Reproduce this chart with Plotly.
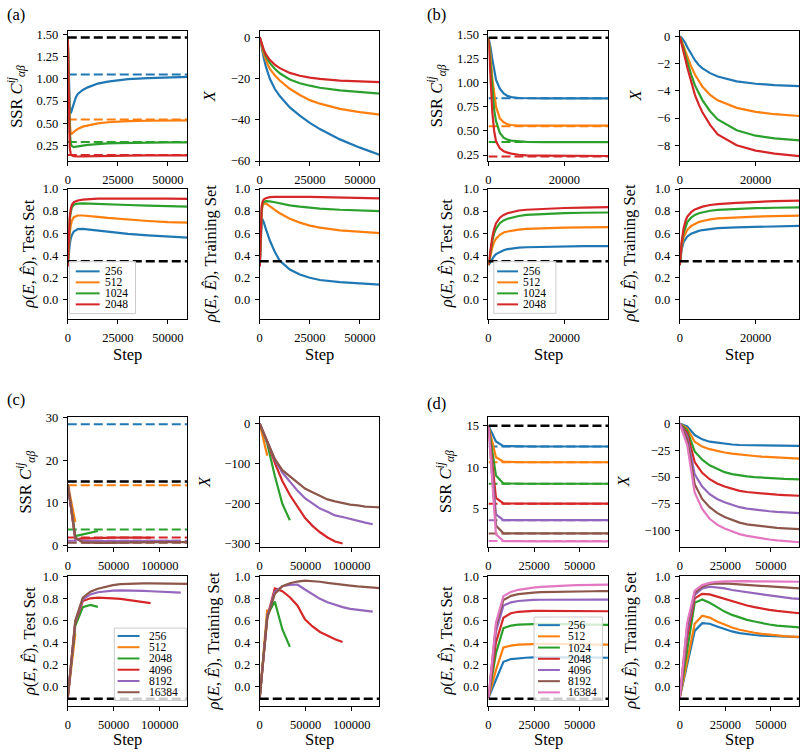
import plotly.graph_objects as go

W, H = 800, 755
FONT = "Liberation Serif"
TAB = ["#1f77b4", "#ff7f0e", "#2ca02c", "#d62728", "#9467bd", "#8c564b", "#e377c2"]

# ---------------- panel (a) ----------------
A_LABELS = ["256", "512", "1024", "2048"]
A_STEPS = [0, 500, 1000, 1500, 2000, 3000, 4000, 5000, 7500, 10000, 15000,
           20000, 25000, 30000, 40000, 50000, 60000]
A_SSR = [
    [1.47, 1.0, 0.7, 0.61, 0.65, 0.74, 0.79, 0.83, 0.875, 0.905, 0.948, 0.97, 0.988, 0.998, 1.01, 1.018, 1.024],
    [1.47, 0.9, 0.5, 0.375, 0.38, 0.40, 0.42, 0.435, 0.46, 0.475, 0.497, 0.51, 0.517, 0.522, 0.527, 0.53, 0.532],
    [1.47, 0.8, 0.4, 0.27, 0.24, 0.228, 0.23, 0.235, 0.245, 0.253, 0.263, 0.27, 0.274, 0.277, 0.28, 0.282, 0.283],
    [1.47, 0.6, 0.22, 0.15, 0.135, 0.127, 0.124, 0.122, 0.123, 0.125, 0.128, 0.13, 0.132, 0.133, 0.134, 0.134, 0.134],
]
A_SSR_REF = [1.05, 0.54, 0.285, 0.14]
A_SSR_BASE = 1.47
A_X = [
    [0, -3, -5.5, -8, -10, -14, -17.3, -20, -25, -28.5, -34, -38, -41.5, -44.5, -49.5, -53.5, -57],
    [0, -2.5, -4.5, -6.3, -8, -11, -13.3, -15.2, -18.5, -21, -25, -28, -30.5, -32.2, -34.7, -36.3, -37.5],
    [0, -2, -3.8, -5.3, -6.6, -9, -11, -12.5, -15.3, -17.5, -20.5, -22.3, -23.5, -24.5, -25.8, -26.7, -27.3],
    [0, -1.8, -3.4, -4.8, -6, -8.2, -9.8, -11, -13.3, -15, -17.3, -18.7, -19.6, -20.2, -21, -21.5, -21.8],
]
A_TEST = [
    [0.30, 0.42, 0.5, 0.55, 0.58, 0.615, 0.63, 0.637, 0.638, 0.633, 0.622, 0.612, 0.602, 0.593, 0.58, 0.57, 0.56],
    [0.30, 0.5, 0.6, 0.67, 0.71, 0.745, 0.755, 0.76, 0.76, 0.757, 0.748, 0.738, 0.73, 0.722, 0.71, 0.70, 0.695],
    [0.30, 0.58, 0.72, 0.79, 0.83, 0.858, 0.865, 0.868, 0.87, 0.869, 0.866, 0.862, 0.858, 0.855, 0.85, 0.845, 0.84],
    [0.30, 0.6, 0.75, 0.82, 0.855, 0.88, 0.89, 0.896, 0.904, 0.908, 0.912, 0.913, 0.914, 0.914, 0.913, 0.912, 0.91],
]
A_TRAIN = [
    [0.30, 0.6, 0.71, 0.72, 0.7, 0.64, 0.585, 0.535, 0.43, 0.35, 0.27, 0.225, 0.195, 0.175, 0.155, 0.142, 0.133],
    [0.30, 0.65, 0.8, 0.85, 0.865, 0.87, 0.86, 0.845, 0.81, 0.78, 0.73, 0.695, 0.668, 0.65, 0.625, 0.61, 0.60],
    [0.30, 0.7, 0.83, 0.87, 0.882, 0.89, 0.89, 0.888, 0.88, 0.87, 0.852, 0.84, 0.83, 0.823, 0.812, 0.805, 0.80],
    [0.30, 0.72, 0.85, 0.89, 0.905, 0.917, 0.923, 0.926, 0.929, 0.93, 0.93, 0.929, 0.928, 0.926, 0.922, 0.918, 0.915],
]
A_RHO_BASE = 0.345

# ---------------- panel (b) ----------------
B_LABELS = ["256", "512", "1024", "2048"]
B_STEPS = [0, 500, 1000, 1500, 2000, 3000, 4000, 5000, 6000, 8000, 10000, 15000, 20000, 25000, 31500]
B_SSR = [
    [1.47, 1.38, 1.25, 1.12, 1.03, 0.94, 0.89, 0.865, 0.852, 0.843, 0.841, 0.84, 0.84, 0.84, 0.84],
    [1.47, 1.3, 1.05, 0.87, 0.75, 0.63, 0.59, 0.57, 0.562, 0.556, 0.555, 0.555, 0.555, 0.555, 0.555],
    [1.47, 1.22, 0.92, 0.72, 0.6, 0.48, 0.43, 0.41, 0.4, 0.39, 0.387, 0.385, 0.385, 0.385, 0.385],
    [1.47, 1.05, 0.7, 0.5, 0.39, 0.32, 0.29, 0.275, 0.265, 0.253, 0.247, 0.243, 0.24, 0.24, 0.24],
]
B_SSR_REF = [0.84, 0.55, 0.385, 0.235]
B_SSR_BASE = 1.47
B_X = [
    [0, -0.1, -0.3, -0.5, -0.8, -1.3, -1.75, -2.1, -2.35, -2.7, -2.95, -3.3, -3.48, -3.58, -3.66],
    [0, -0.3, -0.7, -1.1, -1.5, -2.2, -2.8, -3.3, -3.7, -4.3, -4.7, -5.25, -5.55, -5.72, -5.85],
    [0, -0.4, -0.9, -1.4, -1.9, -2.8, -3.6, -4.2, -4.7, -5.5, -6.1, -6.9, -7.3, -7.5, -7.65],
    [0, -0.5, -1.1, -1.7, -2.3, -3.4, -4.3, -5.0, -5.6, -6.5, -7.2, -8.0, -8.4, -8.62, -8.8],
]
B_TEST = [
    [0.31, 0.34, 0.37, 0.39, 0.41, 0.43, 0.445, 0.455, 0.46, 0.468, 0.472, 0.477, 0.48, 0.482, 0.483],
    [0.31, 0.4, 0.47, 0.52, 0.55, 0.585, 0.605, 0.615, 0.622, 0.632, 0.638, 0.645, 0.65, 0.652, 0.655],
    [0.31, 0.43, 0.53, 0.6, 0.64, 0.69, 0.715, 0.73, 0.74, 0.755, 0.765, 0.775, 0.782, 0.785, 0.787],
    [0.31, 0.45, 0.56, 0.64, 0.69, 0.74, 0.765, 0.78, 0.79, 0.805, 0.812, 0.822, 0.828, 0.832, 0.836],
]
B_TRAIN = [
    [0.31, 0.45, 0.52, 0.55, 0.57, 0.595, 0.61, 0.62, 0.628, 0.638, 0.645, 0.653, 0.658, 0.662, 0.665],
    [0.31, 0.48, 0.56, 0.6, 0.63, 0.665, 0.685, 0.7, 0.71, 0.725, 0.733, 0.743, 0.75, 0.755, 0.758],
    [0.31, 0.5, 0.6, 0.66, 0.7, 0.74, 0.765, 0.78, 0.79, 0.803, 0.81, 0.82, 0.826, 0.83, 0.833],
    [0.31, 0.52, 0.64, 0.71, 0.75, 0.79, 0.815, 0.83, 0.84, 0.855, 0.863, 0.875, 0.884, 0.89, 0.895],
]
B_RHO_BASE = 0.345

# ---------------- panel (c) ----------------
C_LABELS = ["256", "512", "2048", "4096", "8192", "16384"]
C_STEPS = [0, 8192, 16384, 24576, 32768, 40960, 49152, 57344, 65536, 73728,
           81920, 90112, 98304, 106496, 114688, 122880, 131072]
C_SSR = [
    [],
    [14.4, 5.5],
    [14.4, 2.2, 2.6, 3.0, 3.4],
    [14.4, 1.5, 1.6, 1.7, 1.75, 1.8, 1.85, 1.85, 1.9, 1.9, 1.85, 1.8],
    [14.4, 1.6, 1.0, 1.0, 1.0, 1.0, 1.05, 1.05, 1.05, 1.1, 1.1, 1.1, 1.1, 1.1, 1.1, 1.1],
    [14.4, 1.8, 0.7, 0.6, 0.6, 0.6, 0.65, 0.7, 0.7, 0.75, 0.75, 0.75, 0.8, 0.8, 0.8, 0.8, 0.8],
]
C_SSR_REF = [28.4, 14.1, 3.75, 1.85, 1.1, 0.65]
C_SSR_BASE = 15.0
C_X = [
    [],
    [0, -80],
    [0, -50, -130, -200, -241],
    [0, -45, -98, -143, -178, -208, -235, -255, -271, -284, -294, -299],
    [0, -45, -90, -122, -145, -167, -186, -200, -212, -220, -229, -233, -238, -243, -247, -251],
    [0, -45, -88, -116, -132, -147, -162, -171, -181, -189, -194, -198, -202, -204, -207, -208, -209],
]
C_TEST = [
    [],
    [-0.1, 0.48],
    [-0.1, 0.55, 0.72, 0.74, 0.722],
    [-0.1, 0.58, 0.775, 0.80, 0.806, 0.806, 0.80, 0.795, 0.787, 0.778, 0.768, 0.757],
    [-0.1, 0.59, 0.79, 0.835, 0.855, 0.865, 0.87, 0.872, 0.872, 0.87, 0.867, 0.864, 0.861, 0.858, 0.855, 0.852],
    [-0.1, 0.6, 0.805, 0.86, 0.887, 0.905, 0.92, 0.928, 0.932, 0.934, 0.935, 0.935, 0.935, 0.934, 0.933, 0.932, 0.931],
]
C_TRAIN = [
    [],
    [-0.1, 0.70],
    [-0.1, 0.65, 0.77, 0.52, 0.36],
    [-0.1, 0.63, 0.89, 0.865, 0.81, 0.735, 0.61, 0.545, 0.495, 0.46, 0.43, 0.405],
    [-0.1, 0.63, 0.86, 0.91, 0.922, 0.925, 0.88, 0.835, 0.795, 0.765, 0.74, 0.72, 0.705, 0.695, 0.686, 0.68],
    [-0.1, 0.62, 0.84, 0.91, 0.937, 0.952, 0.96, 0.958, 0.95, 0.94, 0.93, 0.922, 0.915, 0.908, 0.902, 0.897, 0.893],
]
C_RHO_BASE = -0.11

# ---------------- panel (d) ----------------
D_LABELS = ["256", "512", "1024", "2048", "4096", "8192", "16384"]
D_STEPS = [0, 4096, 8192, 12288, 16384, 20480, 24576, 28672, 32768, 36864,
           40960, 45056, 49152, 53248, 57344, 61440, 65536]
D_SSR = [
    [15, 13.1, 12.55, 12.52, 12.5, 12.5, 12.5, 12.5, 12.5, 12.5, 12.5, 12.5, 12.5, 12.5, 12.5, 12.5, 12.5],
    [15, 11.2, 10.66, 10.62, 10.6, 10.6, 10.6, 10.6, 10.6, 10.6, 10.6, 10.6, 10.6, 10.6, 10.6, 10.6, 10.6],
    [15, 9.0, 8.04, 8.0, 8.0, 8.0, 8.0, 8.0, 8.0, 8.0, 8.0, 8.0, 8.0, 8.0, 8.0, 8.0, 8.0],
    [15, 6.3, 5.62, 5.6, 5.6, 5.6, 5.6, 5.6, 5.6, 5.6, 5.6, 5.6, 5.6, 5.6, 5.6, 5.6, 5.6],
    [15, 4.3, 3.62, 3.6, 3.6, 3.6, 3.6, 3.6, 3.6, 3.6, 3.6, 3.6, 3.6, 3.6, 3.6, 3.6, 3.6],
    [15, 2.96, 2.02, 2.0, 2.0, 2.0, 2.0, 2.0, 2.0, 2.0, 2.0, 2.0, 2.0, 2.0, 2.0, 2.0, 2.0],
    [15, 1.9, 1.08, 1.06, 1.05, 1.05, 1.05, 1.05, 1.05, 1.05, 1.05, 1.05, 1.05, 1.05, 1.05, 1.05, 1.05],
]
D_SSR_REF = [12.5, 10.6, 8.0, 5.6, 3.6, 2.0, 1.1]
D_SSR_BASE = 15.0
D_X = [
    [0, -2.5, -10.7, -14.7, -16.9, -18.0, -19.0, -19.5, -20.0, -20.2, -20.4, -20.5, -20.6, -20.7, -20.8, -20.85, -20.9],
    [0, -4.5, -16.9, -21.5, -23.9, -25.6, -27.0, -28.1, -29.0, -29.7, -30.3, -30.9, -31.4, -31.8, -32.2, -32.5, -32.8],
    [0, -6.5, -26, -33.7, -39, -42.5, -45.4, -47.2, -48.5, -49.4, -50.0, -50.6, -51.0, -51.4, -51.7, -51.9, -52.1],
    [0, -9, -36, -46, -52, -56, -58.9, -61.1, -62.9, -64.0, -64.8, -65.4, -66.0, -66.5, -66.9, -67.2, -67.5],
    [0, -12, -47.5, -58.9, -66, -70.5, -73.6, -76.2, -78.2, -79.5, -80.5, -81.3, -82.0, -82.6, -83.1, -83.4, -83.7],
    [0, -15, -56.7, -70.5, -78.2, -83.5, -87.4, -90.3, -92.6, -94.2, -95.2, -96.0, -96.8, -97.5, -98.0, -98.4, -98.8],
    [0, -20, -64.4, -79.8, -89, -94.5, -98.2, -101, -103.4, -105, -106.3, -107.4, -108.4, -109.2, -109.9, -110.5, -111],
]
D_TEST = [
    [-0.1, 0.06, 0.225, 0.25, 0.258, 0.262, 0.265, 0.266, 0.267, 0.267, 0.267, 0.266, 0.266, 0.265, 0.264, 0.263, 0.262],
    [-0.1, 0.15, 0.355, 0.372, 0.38, 0.384, 0.386, 0.387, 0.387, 0.387, 0.386, 0.385, 0.384, 0.383, 0.382, 0.381, 0.38],
    [-0.1, 0.3, 0.53, 0.553, 0.562, 0.566, 0.568, 0.568, 0.568, 0.567, 0.566, 0.565, 0.564, 0.563, 0.562, 0.561, 0.56],
    [-0.1, 0.4, 0.624, 0.665, 0.678, 0.684, 0.686, 0.687, 0.687, 0.687, 0.686, 0.686, 0.685, 0.685, 0.684, 0.684, 0.683],
    [-0.1, 0.5, 0.734, 0.763, 0.776, 0.782, 0.785, 0.787, 0.788, 0.789, 0.789, 0.789, 0.789, 0.789, 0.789, 0.789, 0.789],
    [-0.1, 0.55, 0.785, 0.822, 0.838, 0.847, 0.852, 0.856, 0.858, 0.86, 0.861, 0.862, 0.863, 0.864, 0.864, 0.865, 0.865],
    [-0.1, 0.58, 0.82, 0.858, 0.877, 0.889, 0.897, 0.903, 0.908, 0.912, 0.915, 0.917, 0.919, 0.921, 0.922, 0.923, 0.924],
]
D_TRAIN = [
    [-0.1, 0.2, 0.505, 0.575, 0.57, 0.545, 0.52, 0.50, 0.485, 0.475, 0.468, 0.462, 0.458, 0.455, 0.452, 0.45, 0.448],
    [-0.1, 0.25, 0.57, 0.642, 0.625, 0.59, 0.56, 0.535, 0.515, 0.5, 0.488, 0.478, 0.47, 0.463, 0.457, 0.453, 0.45],
    [-0.1, 0.35, 0.76, 0.79, 0.76, 0.72, 0.68, 0.65, 0.625, 0.605, 0.59, 0.575, 0.563, 0.553, 0.546, 0.541, 0.537],
    [-0.1, 0.45, 0.80, 0.84, 0.835, 0.815, 0.79, 0.77, 0.75, 0.735, 0.72, 0.706, 0.695, 0.686, 0.678, 0.671, 0.665],
    [-0.1, 0.5, 0.83, 0.89, 0.905, 0.90, 0.89, 0.875, 0.865, 0.853, 0.843, 0.833, 0.823, 0.815, 0.808, 0.80, 0.795],
    [-0.1, 0.55, 0.85, 0.905, 0.93, 0.935, 0.935, 0.93, 0.925, 0.92, 0.915, 0.91, 0.905, 0.90, 0.897, 0.893, 0.89],
    [-0.1, 0.58, 0.87, 0.92, 0.94, 0.95, 0.953, 0.955, 0.955, 0.955, 0.954, 0.954, 0.953, 0.952, 0.951, 0.95, 0.95],
]
D_RHO_BASE = -0.11

# ---------------- axis ranges and ticks ----------------
A_XRANGE = [0, 59650]
B_XRANGE = [0, 31500]
C_XRANGE = [0, 130000]
D_XRANGE = [0, 65536]
A_XTICKS = [0, 25000, 50000]
B_XTICKS = [0, 20000]
C_XTICKS = [0, 50000, 100000]
D_XTICKS = [0, 25000, 50000]

A_SSR_RANGE = [0.068, 1.548]
B_SSR_RANGE = [0.185, 1.544]
C_SSR_RANGE = [-0.25, 30.16]
D_SSR_RANGE = [0.42, 16.09]
SSR_TICKS_AB = [0.25, 0.5, 0.75, 1.0, 1.25, 1.5]
C_SSR_TICKS = [0, 10, 20, 30]
D_SSR_TICKS = [5, 10, 15]

A_X_RANGE = [-60.1, 3.2]
B_X_RANGE = [-9.18, 0.43]
C_X_RANGE = [-306.6, 17.2]
D_X_RANGE = [-115.0, 6.4]
A_X_TICKS = [0, -20, -40, -60]
B_X_TICKS = [0, -2, -4, -6, -8]
C_X_TICKS = [0, -100, -200, -300]
D_X_TICKS = [0, -25, -50, -75, -100]

RHO_RANGE = [-0.179, 1.002]
RHO_TICKS = [0.0, 0.2, 0.4, 0.6, 0.8, 1.0]

# ---------------- layout geometry (pixels) ----------------
COLS = [(65, 185), (257.7, 377.7), (487.3, 607.3), (679.3, 799.3)]
ROWS = [(25, 158), (186, 318.5), (418, 550), (580, 712.7)]
TICK_SIZE = 12.5
TITLE_SIZE = 16.5
LEGEND_SIZE = 11.5


def fmt(v, dec):
    s = f"{v:.{dec}f}"
    return s.replace("-", "\u2212")


fig = go.Figure()
layout = {}
axis_count = [0]


def make_axes(col, row, xr, xt, yr, yt, ydec):
    axis_count[0] += 1
    i = axis_count[0]
    sfx = "" if i == 1 else str(i)
    x0, x1 = COLS[col]
    y0, y1 = ROWS[row]
    common = dict(showline=True, mirror=True, linecolor="black", linewidth=1,
                  ticks="outside", ticklen=4, tickwidth=0.8, tickcolor="black",
                  showgrid=False, zeroline=False,
                  tickfont=dict(family=FONT, size=TICK_SIZE, color="black"))
    layout["xaxis" + sfx] = dict(domain=[x0 / W, x1 / W], range=xr, anchor="y" + sfx,
                                 tickmode="array", tickvals=xt, ticklabelstandoff=3,
                                 ticktext=[fmt(v, 0) for v in xt], **common)
    layout["yaxis" + sfx] = dict(domain=[1 - y1 / H, 1 - y0 / H], range=yr, anchor="x" + sfx,
                                 tickmode="array", tickvals=yt, ticklabelstandoff=2,
                                 ticktext=[fmt(v, ydec) for v in yt], **common)
    return "x" + sfx, "y" + sfx


def solid(xa, ya, steps, vals, color):
    if not vals:
        return
    fig.add_trace(go.Scatter(x=steps[:len(vals)], y=vals, mode="lines", xaxis=xa, yaxis=ya,
                             line=dict(color=color, width=2.2), showlegend=False, hoverinfo="skip"))


def hline(xa, ya, xr, v, color, width):
    fig.add_trace(go.Scatter(x=[xr[0], xr[1]], y=[v, v], mode="lines", xaxis=xa, yaxis=ya,
                             line=dict(color=color, width=width, dash="9px,4px"),
                             showlegend=False, hoverinfo="skip"))


def ytitle(x, y, text):
    fig.add_annotation(x=x / W, y=1 - y / H, xref="paper", yref="paper", text=text,
                       showarrow=False, textangle=-90, xanchor="center", yanchor="middle",
                       font=dict(family=FONT, size=TITLE_SIZE, color="black"))


def xtitle(x, y, text):
    fig.add_annotation(x=x / W, y=1 - y / H, xref="paper", yref="paper", text=text,
                       showarrow=False, xanchor="center", yanchor="middle",
                       font=dict(family=FONT, size=TITLE_SIZE, color="black"))


def legend_box(box, first_y, dy, lx0, lx1, tx, labels, colors):
    bx0, by0, bx1, by1 = box
    fig.add_shape(type="rect", xref="paper", yref="paper", x0=bx0 / W, x1=bx1 / W,
                  y0=1 - by1 / H, y1=1 - by0 / H, line=dict(color="#cccccc", width=1),
                  fillcolor="rgba(255,255,255,0.8)", layer="above")
    for k, (lab, c) in enumerate(zip(labels, colors)):
        yy = first_y + k * dy
        fig.add_shape(type="line", xref="paper", yref="paper", x0=lx0 / W, x1=lx1 / W,
                      y0=1 - yy / H, y1=1 - yy / H, line=dict(color=c, width=2), layer="above")
        fig.add_annotation(x=tx / W, y=1 - yy / H, xref="paper", yref="paper", text=lab,
                           showarrow=False, xanchor="left", yanchor="middle",
                           font=dict(family=FONT, size=LEGEND_SIZE, color="black"))


SSR_TITLE = "SSR <i>C</i><sup><i>ij</i></sup><sub><i>\u03b1\u03b2</i></sub>"
X_TITLE = "<i>X</i>"
TEST_TITLE = "<i>\u03c1</i>(<i>E</i>, <i>\u00ca</i>), Test Set"
TRAIN_TITLE = "<i>\u03c1</i>(<i>E</i>, <i>\u00ca</i>), Training Set"

PANELS = [
    dict(tag="(a)", c=0, r=0, steps=A_STEPS, labels=A_LABELS, ssr=A_SSR, ssr_ref=A_SSR_REF,
         ssr_base=A_SSR_BASE, xv=A_X, test=A_TEST, train=A_TRAIN, rho_base=A_RHO_BASE,
         xr=A_XRANGE, xt=A_XTICKS, sr=A_SSR_RANGE, st=SSR_TICKS_AB, sdec=2,
         kr=A_X_RANGE, kt=A_X_TICKS,
         ytx=[14, 208, 26, 209], tagpos=(13, 9), steppos=355,
         leg=((66.7, 260, 133, 313), 270, 11.2, 73, 97, 100)),
    dict(tag="(b)", c=2, r=0, steps=B_STEPS, labels=B_LABELS, ssr=B_SSR, ssr_ref=B_SSR_REF,
         ssr_base=B_SSR_BASE, xv=B_X, test=B_TEST, train=B_TRAIN, rho_base=B_RHO_BASE,
         xr=B_XRANGE, xt=B_XTICKS, sr=B_SSR_RANGE, st=SSR_TICKS_AB, sdec=2,
         kr=B_X_RANGE, kt=B_X_TICKS,
         ytx=[436, 635, 446, 629], tagpos=(435, 9), steppos=355,
         leg=((492.7, 260, 555, 312.7), 270, 11.2, 496, 517, 520)),
    dict(tag="(c)", c=0, r=2, steps=C_STEPS, labels=C_LABELS, ssr=C_SSR, ssr_ref=C_SSR_REF,
         ssr_base=C_SSR_BASE, xv=C_X, test=C_TEST, train=C_TRAIN, rho_base=C_RHO_BASE,
         xr=C_XRANGE, xt=C_XTICKS, sr=C_SSR_RANGE, st=C_SSR_TICKS, sdec=0,
         kr=C_X_RANGE, kt=C_X_TICKS,
         ytx=[23, 202, 26, 211], tagpos=(13, 400), steppos=746,
         leg=((111.7, 633, 184, 706.7), 641, 11.45, 115, 137, 145)),
    dict(tag="(d)", c=2, r=2, steps=D_STEPS, labels=D_LABELS, ssr=D_SSR, ssr_ref=D_SSR_REF,
         ssr_base=D_SSR_BASE, xv=D_X, test=D_TEST, train=D_TRAIN, rho_base=D_RHO_BASE,
         xr=D_XRANGE, xt=D_XTICKS, sr=D_SSR_RANGE, st=D_SSR_TICKS, sdec=0,
         kr=D_X_RANGE, kt=D_X_TICKS,
         ytx=[444, 623, 445, 630], tagpos=(435, 404), steppos=746,
         leg=((533, 621.7, 601.7, 706.7), 630, 11.4, 537, 559, 565)),
]

for P in PANELS:
    c, r = P["c"], P["r"]
    cols = TAB[:len(P["labels"])]
    # SSR subplot
    xa, ya = make_axes(c, r, P["xr"], P["xt"], P["sr"], P["st"], P["sdec"])
    for vals, ref, col in zip(P["ssr"], P["ssr_ref"], cols):
        solid(xa, ya, P["steps"], vals, col)
        hline(xa, ya, P["xr"], ref, col, 2)
    hline(xa, ya, P["xr"], P["ssr_base"], "black", 2.5)
    # X subplot
    xa, ya = make_axes(c + 1, r, P["xr"], P["xt"], P["kr"], P["kt"], 0)
    for vals, col in zip(P["xv"], cols):
        solid(xa, ya, P["steps"], vals, col)
    # Test subplot
    xa, ya = make_axes(c, r + 1, P["xr"], P["xt"], RHO_RANGE, RHO_TICKS, 1)
    for vals, col in zip(P["test"], cols):
        solid(xa, ya, P["steps"], vals, col)
    hline(xa, ya, P["xr"], P["rho_base"], "black", 2.5)
    # Training subplot
    xa, ya = make_axes(c + 1, r + 1, P["xr"], P["xt"], RHO_RANGE, RHO_TICKS, 1)
    for vals, col in zip(P["train"], cols):
        solid(xa, ya, P["steps"], vals, col)
    hline(xa, ya, P["xr"], P["rho_base"], "black", 2.5)

    # titles
    yc = [(ROWS[r][0] + ROWS[r][1]) / 2, (ROWS[r + 1][0] + ROWS[r + 1][1]) / 2]
    ytitle(P["ytx"][0], yc[0], SSR_TITLE)
    ytitle(P["ytx"][1], yc[0], X_TITLE)
    ytitle(P["ytx"][2], yc[1], TEST_TITLE)
    ytitle(P["ytx"][3], yc[1], TRAIN_TITLE)
    xtitle((COLS[c][0] + COLS[c][1]) / 2, P["steppos"], "Step")
    xtitle((COLS[c + 1][0] + COLS[c + 1][1]) / 2, P["steppos"], "Step")
    fig.add_annotation(x=P["tagpos"][0] / W, y=1 - P["tagpos"][1] / H, xref="paper", yref="paper",
                       text=P["tag"], showarrow=False, xanchor="center", yanchor="middle",
                       font=dict(family=FONT, size=TITLE_SIZE, color="black"))
    box, fy, dy, lx0, lx1, tx = P["leg"]
    legend_box(box, fy, dy, lx0, lx1, tx, P["labels"], cols)

fig.update_layout(width=W, height=H, autosize=False, margin=dict(l=0, r=0, t=0, b=0),
                  paper_bgcolor="white", plot_bgcolor="white", showlegend=False,
                  font=dict(family=FONT, size=TICK_SIZE, color="black"), **layout)

fig.write_html("out.html", config={"displayModeBar": False},
               post_script="document.body.style.margin='0px';document.body.style.overflow='hidden';")
